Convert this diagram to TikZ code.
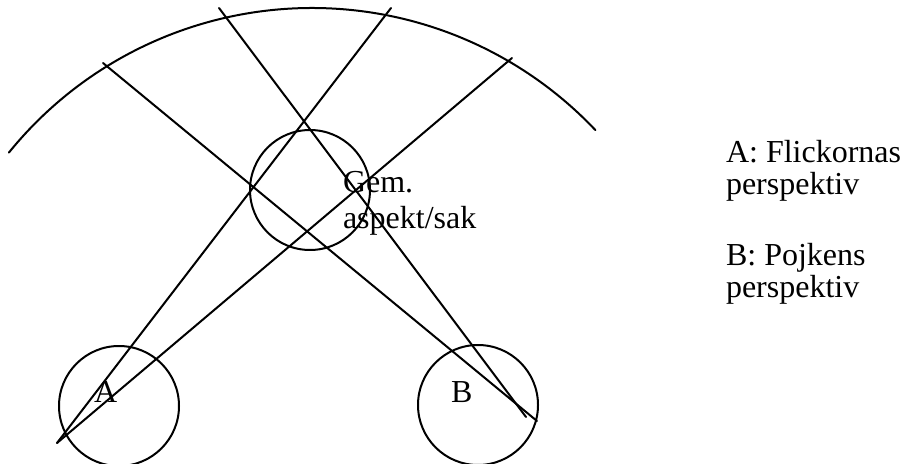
\documentclass[tikz,border=0pt]{standalone}
\usepackage{fontspec}
\setmainfont{Liberation Serif}
\begin{document}
\begin{tikzpicture}[x=.5pt,y=-.5pt,line width=1pt,line cap=round,line join=round,
  font=\fontsize{16}{18.4}\selectfont,
  ring/.style={draw,circle,minimum size=60pt,inner sep=0pt},
  txt/.style={anchor=base west,inner sep=0pt}]
  \useasboundingbox (0,0) rectangle (903,464);
  % the three circles
  \node[ring] (mid) at (310,190) {};
  \node[ring] (ringA) at (119,406) {};
  \node[ring] (ringB) at (478,405) {};
  % the big arc
  \coordinate (ctr) at (312,398);
  \draw ([shift={(-141:390)}]ctr) arc[start angle=-141,end angle=-43.4,radius=390];
  % sight lines
  \coordinate (eyeA) at (57,443);
  \coordinate (eyeB1) at (526,417);
  \coordinate (eyeB2) at (537,421);
  \coordinate (topA1) at (391,8);
  \coordinate (topA2) at (512,58);
  \coordinate (topB1) at (219,8);
  \coordinate (topB2) at (103,63);
  \draw (eyeA)--(topA1);
  \draw (eyeA)--(topA2);
  \draw (eyeB1)--(topB1);
  \draw (eyeB2)--(topB2);
  % labels
  \node[txt] (labA) at (93,402) {A};
  \node[txt] (labB) at (450,402) {B};
  \node[txt] (gem1) at (342,193) {Gem.};
  \node[txt] (gem2) at (342,229) {aspekt/sak};
  \node[txt] (legA1) at (725,163) {A: Flickornas};
  \node[txt] (legA2) at (725,195) {perspektiv};
  \node[txt] (legB1) at (725,266) {B: Pojkens};
  \node[txt] (legB2) at (725,298) {perspektiv};
\end{tikzpicture}
\end{document}
